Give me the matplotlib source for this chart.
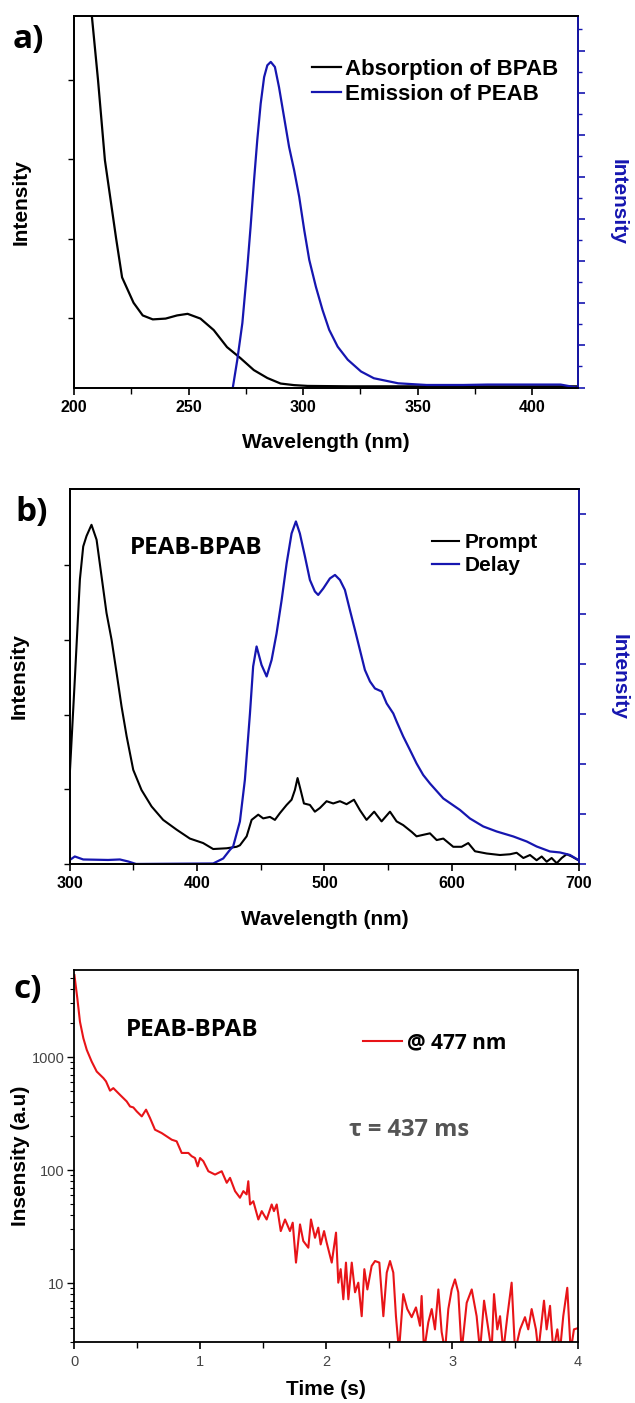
import matplotlib
matplotlib.use("Agg")
import matplotlib.pyplot as plt
from matplotlib.ticker import (MultipleLocator, NullFormatter, LogLocator,
                               FixedLocator, FuncFormatter)

# ---------------- data ----------------
# panel a: absorption of BPAB (left axis, a.u.)
abs_wl = [206, 207.8, 210.5, 213.5, 218.4, 221, 226, 230, 234.4, 240, 245, 249.6,
          255.2, 261.0, 266.8, 272.7, 278.5, 284.4, 290.2, 296.1, 302, 320, 360, 420]
abs_int = [5.3, 4.81, 4.0, 2.99, 2.0, 1.51, 1.19, 1.03, 0.98, 0.99, 1.03, 1.05,
           0.99, 0.845, 0.63, 0.49, 0.34, 0.24, 0.17, 0.15, 0.14, 0.135, 0.135, 0.135]
# panel a: emission of PEAB (right axis, a.u.)
em_wl = [269.4, 271.3, 273.5, 275.7, 277.1, 278.6, 280.0, 281.5, 283.0, 284.4, 285.9,
         287.7, 289.5, 291.7, 293.9, 296.1, 298.3, 300.5, 302.7, 305.6, 308.5, 311.4,
         315.1, 319.5, 325.3, 330.9, 341.5, 353.9, 370, 380.5, 412.4, 419.5]
em_int = [0.02, 0.66, 1.53, 2.87, 3.82, 4.92, 5.87, 6.74, 7.37, 7.65, 7.73,
          7.61, 7.13, 6.42, 5.71, 5.16, 4.53, 3.74, 3.03, 2.39, 1.84, 1.37,
          0.97, 0.66, 0.38, 0.22, 0.10, 0.06, 0.06, 0.07, 0.07, 0.0]

# panel b: prompt (left axis)
pr_wl = [300, 303.9, 307.9, 310.5, 313.1, 317.0, 321.0, 324.9, 328.8,
         332.8, 336.7, 340.6, 344.6, 349.8, 356.3, 364.2, 373.3, 383.8, 394.3,
         404.7, 412.6, 423.1, 431.0, 433.6, 438.9, 442.8, 448.0, 451.9, 457.2,
         461.1, 465.0, 470.3, 474.2, 476.8, 478.9, 481.3, 483.9, 488.6, 492.5,
         496.5, 501.7, 506.9, 512.2, 517.4, 523.2, 527.9, 533.1, 539.1, 544.9,
         551.5, 556.7, 561.9, 568.5, 572.4, 577.6, 582.9, 588.2, 593.4, 601.2,
         607.8, 613.0, 618.3, 627.5, 637.9, 645.8, 651.0, 656.3, 661.5, 666.7,
         670.7, 674.6, 678.5, 682.5, 686.4, 690.3, 694.3, 699.5]
pr_int = [1.22, 2.47, 3.81, 4.25, 4.39, 4.54, 4.34, 3.85, 3.36,
          3.00, 2.56, 2.11, 1.71, 1.26, 0.99, 0.77, 0.59, 0.46, 0.34,
          0.28, 0.20, 0.21, 0.23, 0.25, 0.37, 0.59, 0.66, 0.61, 0.63,
          0.59, 0.68, 0.79, 0.86, 0.99, 1.15, 0.99, 0.81, 0.79, 0.70,
          0.75, 0.84, 0.81, 0.84, 0.80, 0.86, 0.72, 0.59, 0.70, 0.57,
          0.70, 0.57, 0.52, 0.43, 0.37, 0.39, 0.41, 0.32, 0.34, 0.23,
          0.23, 0.28, 0.17, 0.14, 0.12, 0.13, 0.15, 0.08, 0.12, 0.05,
          0.10, 0.03, 0.08, 0.01, 0.08, 0.13, 0.10, 0.05]
# panel b: delay (right axis)
de_wl = [300, 303.9, 310.5, 330, 339.3, 345.8, 352, 412.6, 420.5, 425.7,
         428.3, 433.6, 437.5, 441.5, 444.0, 446.7, 450.6, 454.6, 458.5, 462.4,
         466.4, 470.3, 474.2, 477.6, 480.7, 484.7, 488.6, 492.5, 495.1, 499.1,
         504.3, 508.3, 512.2, 516.1, 520.0, 524.0, 527.9, 531.8, 535.8, 539.7,
         544.9, 548.9, 554.1, 556.7, 561.9, 567.2, 572.4, 577.6, 582.9, 593.4,
         606.5, 614.3, 624.8, 635.3, 648.4, 658.9, 666.7, 677.2, 685.1, 692.9, 699.5]
de_int = [0.08, 0.15, 0.09, 0.08, 0.09, 0.05, 0.0, 0.01, 0.11, 0.28,
          0.35, 0.85, 1.68, 3.01, 3.95, 4.35, 3.98, 3.75, 4.08, 4.61,
          5.28, 6.01, 6.61, 6.85, 6.61, 6.15, 5.68, 5.45, 5.38, 5.51,
          5.71, 5.78, 5.68, 5.48, 5.08, 4.68, 4.28, 3.88, 3.65, 3.51,
          3.45, 3.21, 3.01, 2.85, 2.55, 2.28, 2.01, 1.78, 1.61, 1.31,
          1.08, 0.91, 0.75, 0.65, 0.55, 0.45, 0.35, 0.25, 0.23, 0.18, 0.08]

# panel c: phosphorescence decay at 477 nm (values < 3 lie below the axis)
t_s = [0.0, 0.023, 0.044, 0.071, 0.098, 0.137, 0.177, 0.23, 0.251, 0.283, 0.309,
       0.362, 0.415, 0.442, 0.468, 0.495, 0.535, 0.569, 0.6, 0.64, 0.693, 0.733,
       0.773, 0.812, 0.852, 0.905, 0.931, 0.958, 0.979, 0.998, 1.024, 1.064, 1.117,
       1.17, 1.21, 1.236, 1.276, 1.315, 1.342, 1.368, 1.381, 1.395, 1.421, 1.461,
       1.488, 1.527, 1.567, 1.585, 1.607, 1.639, 1.673, 1.712, 1.734, 1.76, 1.792,
       1.818, 1.858, 1.879, 1.911, 1.937, 1.956, 1.983, 2.004, 2.044, 2.078, 2.096,
       2.115, 2.136, 2.157, 2.176, 2.203, 2.229, 2.255, 2.282, 2.303, 2.327, 2.361,
       2.388, 2.422, 2.454, 2.481, 2.507, 2.533, 2.554, 2.578, 2.612, 2.644, 2.679,
       2.713, 2.745, 2.758, 2.777, 2.811, 2.838, 2.864, 2.891, 2.917, 2.944, 2.97,
       2.997, 3.023, 3.049, 3.076, 3.116, 3.156, 3.195, 3.222, 3.254, 3.288, 3.314,
       3.333, 3.359, 3.381, 3.407, 3.439, 3.473, 3.5, 3.54, 3.579, 3.605, 3.632,
       3.666, 3.685, 3.73, 3.751, 3.778, 3.804, 3.836, 3.857, 3.883, 3.915, 3.942,
       3.968, 4.0]
decay = [5320, 3320, 2060, 1470, 1160, 914, 746, 653, 610, 505, 532,
         464, 406, 366, 359, 331, 299, 343, 290, 228, 213, 199,
         186, 180, 142, 142, 133, 128, 108, 128, 120, 97.8, 91.4,
         97.8, 77.3, 85.5, 65.2, 57, 65.2, 61, 79.8, 49.7, 53.1, 36.6,
         43.4, 36.6, 49.7, 43.4, 49.7, 28.9, 36.6, 28.9, 34.3, 15.2, 33.1,
         23.6, 20.6, 36.6, 25.2, 31, 22, 28.9, 22.8, 15.2, 28, 10.1,
         13.3, 7.2, 15.2, 7.2, 15.2, 8.3, 10.1, 5.1, 13.3, 8.8, 14.2,
         15.7, 15.2, 5.1, 12.4, 15.7, 12.4, 5.1, 2.5, 8.0, 5.9, 5.0,
         6.1, 4.2, 7.7, 2.5, 4.5, 5.9, 3.9, 8.8, 3.7, 2.5, 5.9,
         8.8, 10.8, 8.3, 2.5, 6.7, 8.8, 5.1, 2.5, 7.0, 3.9, 2.5,
         8.0, 3.9, 5.1, 2.5, 5.1, 10.1, 2.5, 3.9, 5.0, 3.9, 5.9,
         3.9, 2.5, 7.0, 3.9, 6.3, 2.5, 3.9, 2.5, 5.1, 9.1, 2.5,
         3.9, 4.0]

BLUE = '#1616b0'
RED = '#e81418'
ARIAL = ['Liberation Sans', 'DejaVu Sans']
OPEN = ['Open Sans', 'DejaVu Sans']

plt.rcParams['font.family'] = ARIAL
plt.rcParams['axes.linewidth'] = 1.3

fig = plt.figure(figsize=(6.35, 14.03), dpi=100)


def style_bottom(ax, major, minor, color='black', bold=True, size=11.5):
    ax.xaxis.set_major_locator(MultipleLocator(major))
    ax.xaxis.set_minor_locator(MultipleLocator(minor))
    ax.tick_params(axis='x', which='major', direction='out', length=5, width=1.2,
                   labelsize=size, pad=4)
    ax.tick_params(axis='x', which='minor', direction='out', length=4, width=1.0)
    for lab in ax.get_xticklabels():
        lab.set_fontweight('bold' if bold else 'normal')
        lab.set_color(color)


# ---------------- panel a ----------------
ax1 = fig.add_axes([0.1165, 0.7238, 0.7937, 0.2648])
ax1.plot(abs_wl, abs_int, color='black', lw=1.6)
ax1.set_xlim(200, 420)
ax1.set_ylim(0.12, 4.81)
ax1.yaxis.set_major_locator(FixedLocator([1, 2, 3, 4]))
ax1.yaxis.set_major_formatter(NullFormatter())
ax1.tick_params(axis='y', direction='out', length=4, width=1.0)
style_bottom(ax1, 50, 25)
ax1.set_xlabel('Wavelength (nm)', fontsize=15, fontweight='bold', labelpad=13)
ax1.set_ylabel('Intensity', fontsize=15, fontweight='bold', labelpad=24)
ax1r = ax1.twinx()
ax1r.plot(em_wl, em_int, color=BLUE, lw=1.6)
ax1r.set_ylim(0, 8.82)
ax1r.yaxis.set_major_locator(MultipleLocator(1))
ax1r.yaxis.set_minor_locator(MultipleLocator(0.5))
ax1r.yaxis.set_major_formatter(NullFormatter())
ax1r.tick_params(axis='y', which='major', direction='out', length=5, width=1.2, colors=BLUE)
ax1r.tick_params(axis='y', which='minor', direction='out', length=3, width=1.0, colors=BLUE)
ax1r.spines['right'].set_color(BLUE)
ax1r.set_ylabel('Intensity', fontsize=15, fontweight='bold', color=BLUE,
                rotation=270, labelpad=27)
h1 = ax1.get_lines()[0]
h2 = ax1r.get_lines()[0]
ax1r.legend([h1, h2], ['Absorption of BPAB', 'Emission of PEAB'], loc='upper left',
            bbox_to_anchor=(0.45, 0.915), frameon=False, handlelength=1.3,
            handletextpad=0.2, labelspacing=0.2, borderpad=0,
            prop={'family': ARIAL, 'weight': 'bold', 'size': 16})
fig.text(0.02, 0.972, 'a)', fontsize=24, fontweight='bold', family=OPEN, va='center')

# ---------------- panel b ----------------
ax2 = fig.add_axes([0.110, 0.3842, 0.8018, 0.2673])
ax2.plot(pr_wl, pr_int, color='black', lw=1.5)
ax2.set_xlim(300, 700)
ax2.set_ylim(0, 5.02)
ax2.yaxis.set_major_locator(FixedLocator([0, 1, 2, 3, 4]))
ax2.yaxis.set_major_formatter(NullFormatter())
ax2.tick_params(axis='y', direction='out', length=4, width=1.0)
style_bottom(ax2, 100, 50)
ax2.set_xlabel('Wavelength (nm)', fontsize=15, fontweight='bold', labelpad=13)
ax2.set_ylabel('Intensity', fontsize=15, fontweight='bold', labelpad=22)
ax2r = ax2.twinx()
ax2r.plot(de_wl, de_int, color=BLUE, lw=1.6)
ax2r.set_ylim(0, 7.5)
ax2r.yaxis.set_major_locator(MultipleLocator(1))
ax2r.yaxis.set_major_formatter(NullFormatter())
ax2r.tick_params(axis='y', which='major', direction='out', length=5, width=1.2, colors=BLUE)
ax2r.spines['right'].set_color(BLUE)
ax2r.set_ylabel('Intensity', fontsize=15, fontweight='bold', color=BLUE,
                rotation=270, labelpad=27)
g1 = ax2.get_lines()[0]
g2 = ax2r.get_lines()[0]
ax2r.legend([g1, g2], ['Prompt', 'Delay'], loc='upper left',
            bbox_to_anchor=(0.69, 0.91), frameon=False, handlelength=1.3,
            handletextpad=0.3, labelspacing=0.2, borderpad=0,
            prop={'family': ARIAL, 'weight': 'bold', 'size': 15})
ax2.text(0.118, 0.843, 'PEAB-BPAB', transform=ax2.transAxes, fontsize=17.5,
         fontweight='bold', family=OPEN, va='center')
fig.text(0.024, 0.635, 'b)', fontsize=24, fontweight='bold', family=OPEN, va='center')

# ---------------- panel c ----------------
ax3 = fig.add_axes([0.1172, 0.0433, 0.7930, 0.2653])
ax3.plot(t_s, decay, color=RED, lw=1.5, label='@ 477 nm')
ax3.set_yscale('log')
ax3.set_xlim(0, 4)
ax3.set_ylim(3, 5900)
ax3.yaxis.set_major_locator(LogLocator(base=10, numticks=10))
ax3.yaxis.set_minor_locator(LogLocator(base=10, subs=range(2, 10), numticks=10))
ax3.yaxis.set_minor_formatter(NullFormatter())
ax3.yaxis.set_major_formatter(FuncFormatter(lambda v, p: '%d' % v))
ax3.tick_params(axis='y', which='major', direction='out', length=5, width=1.0,
                labelsize=10.5, labelcolor='#444444', pad=2)
ax3.tick_params(axis='y', which='minor', direction='out', length=3, width=0.8)
style_bottom(ax3, 1, 0.5, color='#444444', bold=False, size=10.5)
ax3.set_xlabel('Time (s)', fontsize=15, fontweight='bold', labelpad=8)
ax3.set_ylabel('Insensity (a.u)', fontsize=15, fontweight='bold', labelpad=1.5)
ax3.legend(loc='upper left', bbox_to_anchor=(0.552, 0.86), frameon=False,
           handlelength=1.9, handletextpad=0.2, borderpad=0,
           prop={'family': OPEN, 'weight': 'bold', 'size': 15})
ax3.text(0.102, 0.84, 'PEAB-BPAB', transform=ax3.transAxes, fontsize=17.5,
         fontweight='bold', family=OPEN, va='center')
ax3.text(0.545, 0.571, 'τ = 437 ms', transform=ax3.transAxes, fontsize=17,
         fontweight='bold', family=OPEN, color='#555555', va='center')
fig.text(0.022, 0.295, 'c)', fontsize=24, fontweight='bold', family=OPEN, va='center')

fig.savefig('out.png', dpi=100)
